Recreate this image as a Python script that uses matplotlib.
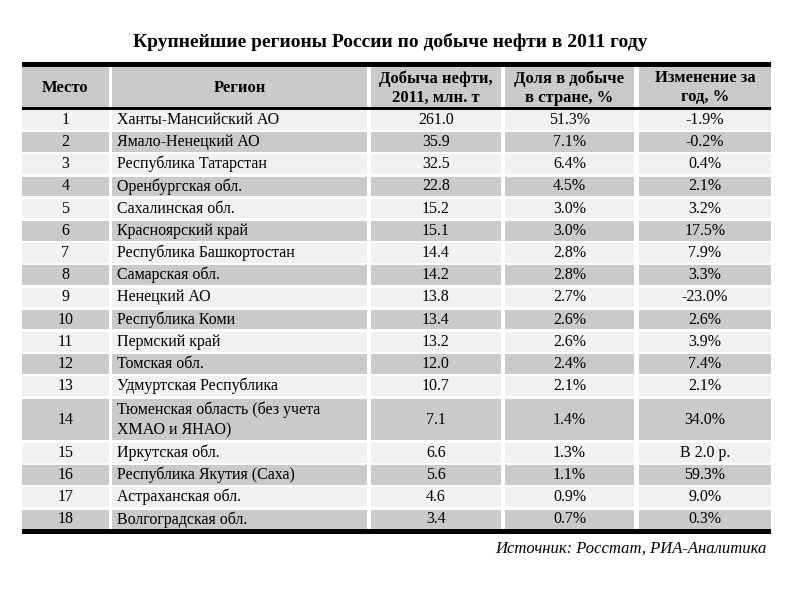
import matplotlib
matplotlib.use('Agg')
import matplotlib.pyplot as plt
from matplotlib.patches import Rectangle

title = 'Крупнейшие регионы России по добыче нефти в 2011 году'
headers = ['Место', 'Регион', 'Добыча нефти,\n2011, млн. т', 'Доля в добыче\nв стране, %', 'Изменение за\nгод, %']
places = list(range(1, 19))
regions = ['Ханты-Мансийский АО', 'Ямало-Ненецкий АО', 'Республика Татарстан',
           'Оренбургская обл.', 'Сахалинская обл.', 'Красноярский край',
           'Республика Башкортостан', 'Самарская обл.', 'Ненецкий АО',
           'Республика Коми', 'Пермский край', 'Томская обл.',
           'Удмуртская Республика', 'Тюменская область (без учета\nХМАО и ЯНАО)',
           'Иркутская обл.', 'Республика Якутия (Саха)', 'Астраханская обл.',
           'Волгоградская обл.']
production = [261.0, 35.9, 32.5, 22.8, 15.2, 15.1, 14.4, 14.2, 13.8,
              13.4, 13.2, 12.0, 10.7, 7.1, 6.6, 5.6, 4.6, 3.4]
share = [51.3, 7.1, 6.4, 4.5, 3.0, 3.0, 2.8, 2.8, 2.7,
         2.6, 2.6, 2.4, 2.1, 1.4, 1.3, 1.1, 0.9, 0.7]
change = ['-1.9%', '-0.2%', '0.4%', '2.1%', '3.2%', '17.5%', '7.9%', '3.3%',
          '-23.0%', '2.6%', '3.9%', '7.4%', '2.1%', '34.0%', 'В 2.0 р.',
          '59.3%', '9.0%', '0.3%']
source = 'Источник: Росстат, РИА-Аналитика'

plt.rcParams['font.family'] = ['Liberation Serif', 'DejaVu Serif']

fig = plt.figure(figsize=(8, 6), dpi=100)
ax = fig.add_axes([0, 0, 1, 1])
ax.set_xlim(0, 800)
ax.set_ylim(600, 0)
ax.axis('off')

# column edges (pixels)
cols = [(22, 109), (112, 367), (371, 501), (505, 634), (639, 771)]
left, right = cols[0][0], cols[-1][1]
gap = 2.5
light = '#f1f1f1'
dark = '#cacaca'

ax.text(390, 42, title, ha='center', va='center', fontsize=14, fontweight='bold')

# top rule, header, rule under header
ax.add_patch(Rectangle((left, 61.5), right - left, 5.5, color='black', lw=0))
hy0, hy1 = 67, 107
for (x0, x1), h in zip(cols, headers):
    ax.add_patch(Rectangle((x0, hy0), x1 - x0, hy1 - hy0, color=dark, lw=0))
    ax.text((x0 + x1) / 2, (hy0 + hy1) / 2 + 1, h, ha='center', va='center',
            fontsize=12, fontweight='bold', linespacing=1.25)
ax.add_patch(Rectangle((left, hy1), right - left, 3, color='black', lw=0))

unit = 22.2
y = hy1 + 3
for i in range(len(places)):
    h = unit * (2 if '\n' in regions[i] else 1)
    color = light if i % 2 == 0 else dark
    for (x0, x1) in cols:
        ax.add_patch(Rectangle((x0, y), x1 - x0, h - gap, color=color, lw=0))
    yc = y + (h - gap) / 2
    ax.text((cols[0][0] + cols[0][1]) / 2, yc, str(places[i]), ha='center', va='center', fontsize=11.5)
    ax.text(cols[1][0] + 5, yc, regions[i], ha='left', va='center', fontsize=11.5, linespacing=1.35)
    ax.text((cols[2][0] + cols[2][1]) / 2, yc, '%.1f' % production[i], ha='center', va='center', fontsize=11.5)
    ax.text((cols[3][0] + cols[3][1]) / 2, yc, '%.1f%%' % share[i], ha='center', va='center', fontsize=11.5)
    ax.text((cols[4][0] + cols[4][1]) / 2, yc, change[i], ha='center', va='center', fontsize=11.5)
    y += h

ax.add_patch(Rectangle((left, y - gap), right - left, 5, color='black', lw=0))
ax.text(767, y + 17, source, ha='right', va='center', fontsize=12, style='italic')

fig.savefig('out.png', dpi=100)
